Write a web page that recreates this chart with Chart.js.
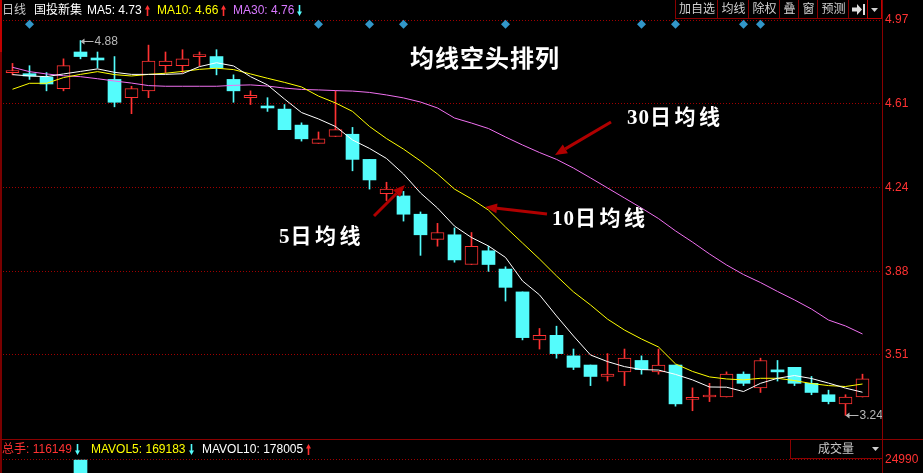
<!DOCTYPE html>
<html>
<head>
<meta charset="utf-8">
<script src="https://cdn.jsdelivr.net/npm/chart.js"></script>
<style>
html, body { margin: 0; padding: 0; background: #000; }
#wrap { position: relative; width: 923px; height: 473px; overflow: hidden; background: #000;
        font-family: "Liberation Sans", "Noto Sans CJK SC", sans-serif; }
#kline { position: absolute; left: 0; top: 0; }
.t { position: absolute; white-space: nowrap; font-size: 12px; line-height: 14px; }
.t svg { vertical-align: -2px; margin-left: 3px; }
.btn { position: absolute; top: 0; height: 19px; border-left: 1px solid #8a0000; border-bottom: 1px solid #8a0000;
       color: #d0d0d0; font-size: 12px; line-height: 19px; text-align: center; box-sizing: border-box; }
.note { position: absolute; white-space: nowrap; color: #fff; font-family: "Liberation Serif", "Noto Sans CJK SC", serif; font-weight: bold; }
.note b { letter-spacing: 1px; }
#overlay { position: absolute; left: 0; top: 0; pointer-events: none; }
</style>
</head>
<body>
<div id="wrap">
  <canvas id="kline" width="923" height="473"></canvas>

  <!-- bordes del panel -->
  <div style="position:absolute;left:0;top:0;width:2px;height:473px;background:#7a0000"></div>
  <div style="position:absolute;left:0;top:0;width:2px;height:52px;background:#c00000"></div>
  <div style="position:absolute;left:882px;top:0;width:1px;height:473px;background:#8a0000"></div>
  <div style="position:absolute;left:0;top:439px;width:923px;height:1px;background:#8a0000"></div>

  <!-- cabecera -->
  <div class="t" style="left:2px;top:3px;color:#c8c8c8">日线</div>
  <div class="t" style="left:34px;top:3px;color:#fff">国投新集</div>
  <div class="t" style="left:87px;top:3px;color:#fff">MA5: 4.73<svg width="5" height="11"><path d="M2.5 0L5 4.5H3.3V11H1.7V4.5H0Z" fill="#ff3030"/></svg></div>
  <div class="t" style="left:157px;top:3px;color:#ffff00">MA10: 4.66<svg width="5" height="11"><path d="M2.5 0L5 4.5H3.3V11H1.7V4.5H0Z" fill="#ff3030"/></svg></div>
  <div class="t" style="left:233px;top:3px;color:#d878ff">MA30: 4.76<svg width="5" height="11"><path d="M2.5 11L5 6.5H3.3V0H1.7V6.5H0Z" fill="#54fcfc"/></svg></div>

  <div class="btn" style="left:675px;width:43px">加自选</div>
  <div class="btn" style="left:717px;width:32px">均线</div>
  <div class="btn" style="left:748px;width:32px">除权</div>
  <div class="btn" style="left:779px;width:20px">叠</div>
  <div class="btn" style="left:798px;width:20px">窗</div>
  <div class="btn" style="left:817px;width:32px">预测</div>
  <div class="btn" style="left:848px;width:20px"><svg width="13" height="11" style="margin-top:4px"><path d="M0 3.5H5V0L10 5.5L5 11V7.5H0Z" fill="#e0e0e0"/><rect x="11" y="0" width="2" height="11" fill="#e0e0e0"/></svg></div>
  <div class="btn" style="left:867px;width:15px;border-color:#c00000;border-right:1px solid #c00000"><svg width="7" height="4" style="margin-top:8px;display:block;margin-left:3px"><path d="M0 0H7L3.5 4Z" fill="#d0d0d0"/></svg></div>

  <!-- cabecera del volumen -->
  <div class="t" style="left:2px;top:442px;color:#ff3232">总手: 116149<svg width="5" height="11"><path d="M2.5 11L5 6.5H3.3V0H1.7V6.5H0Z" fill="#54fcfc"/></svg></div>
  <div class="t" style="left:91px;top:442px;color:#ffff00">MAVOL5: 169183<svg width="5" height="11"><path d="M2.5 11L5 6.5H3.3V0H1.7V6.5H0Z" fill="#54fcfc"/></svg></div>
  <div class="t" style="left:202px;top:442px;color:#fff">MAVOL10: 178005<svg width="5" height="11"><path d="M2.5 0L5 4.5H3.3V11H1.7V4.5H0Z" fill="#ff3030"/></svg></div>
  <div style="position:absolute;left:790px;top:439px;width:92px;height:20px;border-left:1px solid #8a0000;border-bottom:1px solid #8a0000;box-sizing:border-box"></div>
  <div class="t" style="left:818px;top:442px;color:#c8c8c8">成交量</div>
  <svg style="position:absolute;left:872px;top:447px" width="7" height="4"><path d="M0 0H7L3.5 4Z" fill="#d0d0d0"/></svg>

  <!-- anotaciones -->
  <div class="note" style="left:410px;top:46px;font-size:24px;line-height:26px;letter-spacing:1px">均线空头排列</div>
  <div class="note" style="left:627px;top:106px;font-size:21px;line-height:22px;letter-spacing:3.5px"><b>30</b>日均线</div>
  <div class="note" style="left:552px;top:207px;font-size:21px;line-height:22px;letter-spacing:3.5px"><b>10</b>日均线</div>
  <div class="note" style="left:279px;top:225px;font-size:21px;line-height:22px;letter-spacing:3.5px"><b>5</b>日均线</div>
  <svg id="overlay" width="923" height="473"></svg>
</div>

<script>
// Velas diarias (precio)
const open  = [4.74, 4.735, 4.72, 4.67, 4.83, 4.80, 4.71, 4.63, 4.66, 4.77, 4.77, 4.81, 4.81, 4.71, 4.63, 4.59, 4.58,
               4.51, 4.43, 4.46, 4.47, 4.36, 4.21, 4.20, 4.12, 4.01, 4.03, 3.90, 3.96, 3.88, 3.78, 3.57, 3.59, 3.50,
               3.46, 3.41, 3.43, 3.48, 3.43, 3.46, 3.31, 3.32, 3.32, 3.42, 3.36, 3.435, 3.45, 3.38, 3.33, 3.29, 3.32];
const high  = [4.78, 4.77, 4.74, 4.80, 4.88, 4.83, 4.81, 4.68, 4.86, 4.83, 4.84, 4.83, 4.84, 4.73, 4.66, 4.63, 4.60,
               4.52, 4.48, 4.66, 4.50, 4.36, 4.26, 4.22, 4.13, 4.08, 4.06, 4.04, 3.98, 3.89, 3.78, 3.62, 3.63, 3.53,
               3.46, 3.51, 3.53, 3.50, 3.53, 3.46, 3.36, 3.38, 3.43, 3.43, 3.49, 3.48, 3.45, 3.41, 3.35, 3.33, 3.42];
const low   = [4.73, 4.71, 4.66, 4.66, 4.80, 4.76, 4.59, 4.56, 4.63, 4.74, 4.74, 4.77, 4.73, 4.61, 4.60, 4.57, 4.49,
               4.44, 4.43, 4.46, 4.31, 4.23, 4.18, 4.09, 3.94, 3.98, 3.91, 3.90, 3.87, 3.74, 3.57, 3.53, 3.49, 3.44,
               3.37, 3.39, 3.37, 3.42, 3.42, 3.28, 3.26, 3.30, 3.32, 3.37, 3.34, 3.39, 3.37, 3.33, 3.29, 3.24, 3.32];
const close = [4.74, 4.725, 4.69, 4.77, 4.81, 4.795, 4.61, 4.67, 4.79, 4.79, 4.80, 4.81, 4.76, 4.66, 4.64, 4.585, 4.49,
               4.45, 4.45, 4.49, 4.36, 4.27, 4.23, 4.12, 4.03, 4.04, 3.92, 3.98, 3.90, 3.80, 3.58, 3.59, 3.51, 3.45,
               3.41, 3.42, 3.49, 3.44, 3.46, 3.29, 3.31, 3.32, 3.42, 3.38, 3.48, 3.43, 3.38, 3.34, 3.30, 3.32, 3.40];

// Medias móviles
const ma5  = [4.731, 4.725, 4.722, 4.734, 4.745, 4.756, 4.741, 4.732, 4.732, 4.732, 4.735, 4.766, 4.783, 4.769, 4.722,
              4.686, 4.624, 4.565, 4.537, 4.504, 4.445, 4.408, 4.364, 4.296, 4.213, 4.147, 4.068, 4.018, 3.981, 3.931,
              3.828, 3.767, 3.675, 3.587, 3.504, 3.475, 3.453, 3.440, 3.438, 3.419, 3.395, 3.364, 3.363, 3.344, 3.380,
              3.402, 3.414, 3.401, 3.381, 3.359, 3.341];
const ma10 = [4.667, 4.693, 4.693, 4.718, 4.732, 4.744, 4.731, 4.725, 4.732, 4.737, 4.745, 4.754, 4.759, 4.753, 4.734,
              4.715, 4.697, 4.677, 4.637, 4.607, 4.570, 4.504, 4.451, 4.405, 4.353, 4.296, 4.230, 4.187, 4.138, 4.064,
              3.994, 3.924, 3.850, 3.780, 3.723, 3.661, 3.613, 3.574, 3.539, 3.465, 3.432, 3.408, 3.399, 3.395, 3.402,
              3.402, 3.392, 3.379, 3.370, 3.366, 3.377];
const ma30 = [4.763, 4.744, 4.734, 4.726, 4.722, 4.713, 4.703, 4.694, 4.683, 4.680, 4.680, 4.680, 4.680, 4.684, 4.686,
              4.681, 4.672, 4.666, 4.664, 4.661, 4.659, 4.653, 4.642, 4.629, 4.611, 4.585, 4.541, 4.519, 4.495, 4.458,
              4.423, 4.390, 4.360, 4.322, 4.279, 4.235, 4.191, 4.147, 4.101, 4.047, 3.998, 3.946, 3.898, 3.856, 3.821,
              3.782, 3.745, 3.705, 3.657, 3.631, 3.596];

// Volumen: solo asoma la barra del día 4 en el recorte
const volume = [null, null, null, null, 24990];

// Días con "mina de información" (rombos azules)
const infoDays = [1, 18, 21, 23, 29, 37, 39, 43, 44];
const infoLevel = 4.951;

// Ejes
const priceTicks  = [4.97, 4.6035, 4.237, 3.8705, 3.504];
const priceLabels = ['4.97', '4.61', '4.24', '3.88', '3.51'];
const volTicks  = [24990];
const volLabels = ['24990'];

const RED = '#ff3232';
const CYAN = '#54fcfc';
const GRID = '#a00000';

const days = close.map((c, i) => i);
const up = days.map(i => close[i] >= open[i]);

// Flechas de las anotaciones
function arrow(x1, y1, x2, y2) {
    const dx = x2 - x1, dy = y2 - y1, len = Math.hypot(dx, dy);
    const ux = dx / len, uy = dy / len;
    const bx = x2 - ux * 12, by = y2 - uy * 12;
    const px = -uy * 5, py = ux * 5;
    return `<line x1="${x1}" y1="${y1}" x2="${bx}" y2="${by}" stroke="#b00000" stroke-width="3"/>` +
           `<path d="M${x2} ${y2}L${bx + px} ${by + py}L${bx - px} ${by - py}Z" fill="#b00000"/>`;
}
document.getElementById('overlay').innerHTML =
    arrow(611, 122, 555, 155) + arrow(547, 214, 485, 207) + arrow(374, 216, 405, 185);

// Etiquetas de máximo y mínimo
const extremeLabels = {
    id: 'extremeLabels',
    afterDatasetsDraw(chart) {
        const { ctx, scales: { x, y } } = chart;
        const hi = high.indexOf(Math.max(...high));
        const lo = low.indexOf(Math.min(...low));
        [[hi, high[hi]], [lo, low[lo]]].forEach(([i, v]) => {
            const px = x.getPixelForValue(i), py = Math.round(y.getPixelForValue(v)) + 0.5;
            ctx.save();
            ctx.strokeStyle = '#b8b8b8';
            ctx.fillStyle = '#b8b8b8';
            ctx.lineWidth = 1;
            ctx.beginPath();
            ctx.moveTo(px + 1, py);
            ctx.lineTo(px + 13, py);
            ctx.stroke();
            ctx.beginPath();
            ctx.moveTo(px, py);
            ctx.lineTo(px + 4, py - 3);
            ctx.lineTo(px + 4, py + 3);
            ctx.fill();
            ctx.font = '12px "Liberation Sans"';
            ctx.textBaseline = 'middle';
            ctx.fillText(v.toFixed(2), px + 14, py);
            ctx.restore();
        });
    }
};

// El eje de volumen ocupa 0 px; se le da hueco para que su etiqueta no quede recortada
const volAxisRoom = {
    id: 'volAxisRoom',
    afterLayout(chart) { chart.scales.yv.right = chart.width; }
};

// Quitar el relleno que Chart.js reserva para las etiquetas de los extremos
function fixAxis(width) {
    return s => { s.width = width; s.paddingTop = 0; s.paddingBottom = 0; };
}

const ctx = document.getElementById('kline').getContext('2d');
new Chart(ctx, {
    type: 'bar',
    data: {
        datasets: [
            {
                type: 'line', label: 'MA5', data: ma5.map((v, i) => ({ x: i, y: v })),
                borderColor: '#ffffff', borderWidth: 1, pointRadius: 0, tension: 0, order: 0
            },
            {
                type: 'line', label: 'MA10', data: ma10.map((v, i) => ({ x: i, y: v })),
                borderColor: '#ffff00', borderWidth: 1, pointRadius: 0, tension: 0, order: 0
            },
            {
                type: 'line', label: 'MA30', data: ma30.map((v, i) => ({ x: i, y: v })),
                borderColor: '#f070f0', borderWidth: 1, pointRadius: 0, tension: 0, order: 0
            },
            {
                label: 'cuerpo', data: days.map(i => ({ x: i, y: [open[i], close[i]] })),
                backgroundColor: days.map(i => up[i] ? '#000000' : CYAN),
                borderColor: days.map(i => up[i] ? RED : CYAN),
                borderWidth: days.map(i => up[i] ? 1 : 0),
                borderSkipped: false, barThickness: 13, minBarLength: 2, grouped: false, order: 1
            },
            {
                label: 'mecha', data: days.map(i => ({ x: i, y: [low[i], high[i]] })),
                backgroundColor: days.map(i => up[i] ? RED : CYAN),
                borderWidth: 0, barThickness: 1, grouped: false, order: 2
            },
            {
                label: 'volumen', yAxisID: 'yv', data: volume.map((v, i) => ({ x: i, y: v })),
                backgroundColor: CYAN, borderWidth: 0, barThickness: 13, grouped: false, order: 3
            },
            {
                type: 'line', label: 'info', data: infoDays.map(i => ({ x: i, y: infoLevel })),
                showLine: false, pointStyle: 'rectRot', pointRadius: 4.5, pointHoverRadius: 4.5,
                pointBackgroundColor: '#3296c8', pointBorderWidth: 0, clip: false, order: 0
            }
        ]
    },
    options: {
        responsive: false,
        animation: false,
        layout: { autoPadding: false, padding: { left: 3, top: 20, right: 0, bottom: 0 } },
        plugins: { legend: { display: false }, tooltip: { enabled: false } },
        scales: {
            x: {
                type: 'linear', display: false, offset: false,
                min: -9.5 / 17, max: -9.5 / 17 + 879 / 17,
                grid: { offset: false }, ticks: { display: false }
            },
            y: {
                type: 'linear', position: 'right', weight: 1,
                min: 4.97 - 453 / 228.5, max: 4.97,
                afterFit: fixAxis(41),
                afterBuildTicks: s => { s.ticks = priceTicks.map(v => ({ value: v })); },
                grid: { color: GRID, lineWidth: 1, drawTicks: false },
                border: { display: false, dash: [1, 2] },
                ticks: {
                    color: RED, padding: 3, font: { family: 'Liberation Sans', size: 12 },
                    callback: (v, i) => priceLabels[i]
                }
            },
            yv: {
                type: 'linear', position: 'right', weight: 0,
                min: 21740, max: 134950,
                afterFit: fixAxis(0),
                afterBuildTicks: s => { s.ticks = volTicks.map(v => ({ value: v })); },
                grid: { color: GRID, lineWidth: 1, drawTicks: false },
                border: { display: false, dash: [1, 2] },
                ticks: {
                    color: RED, padding: 3, font: { family: 'Liberation Sans', size: 12 },
                    callback: (v, i) => volLabels[i]
                }
            }
        }
    },
    plugins: [extremeLabels, volAxisRoom]
});
</script>
</body>
</html>
